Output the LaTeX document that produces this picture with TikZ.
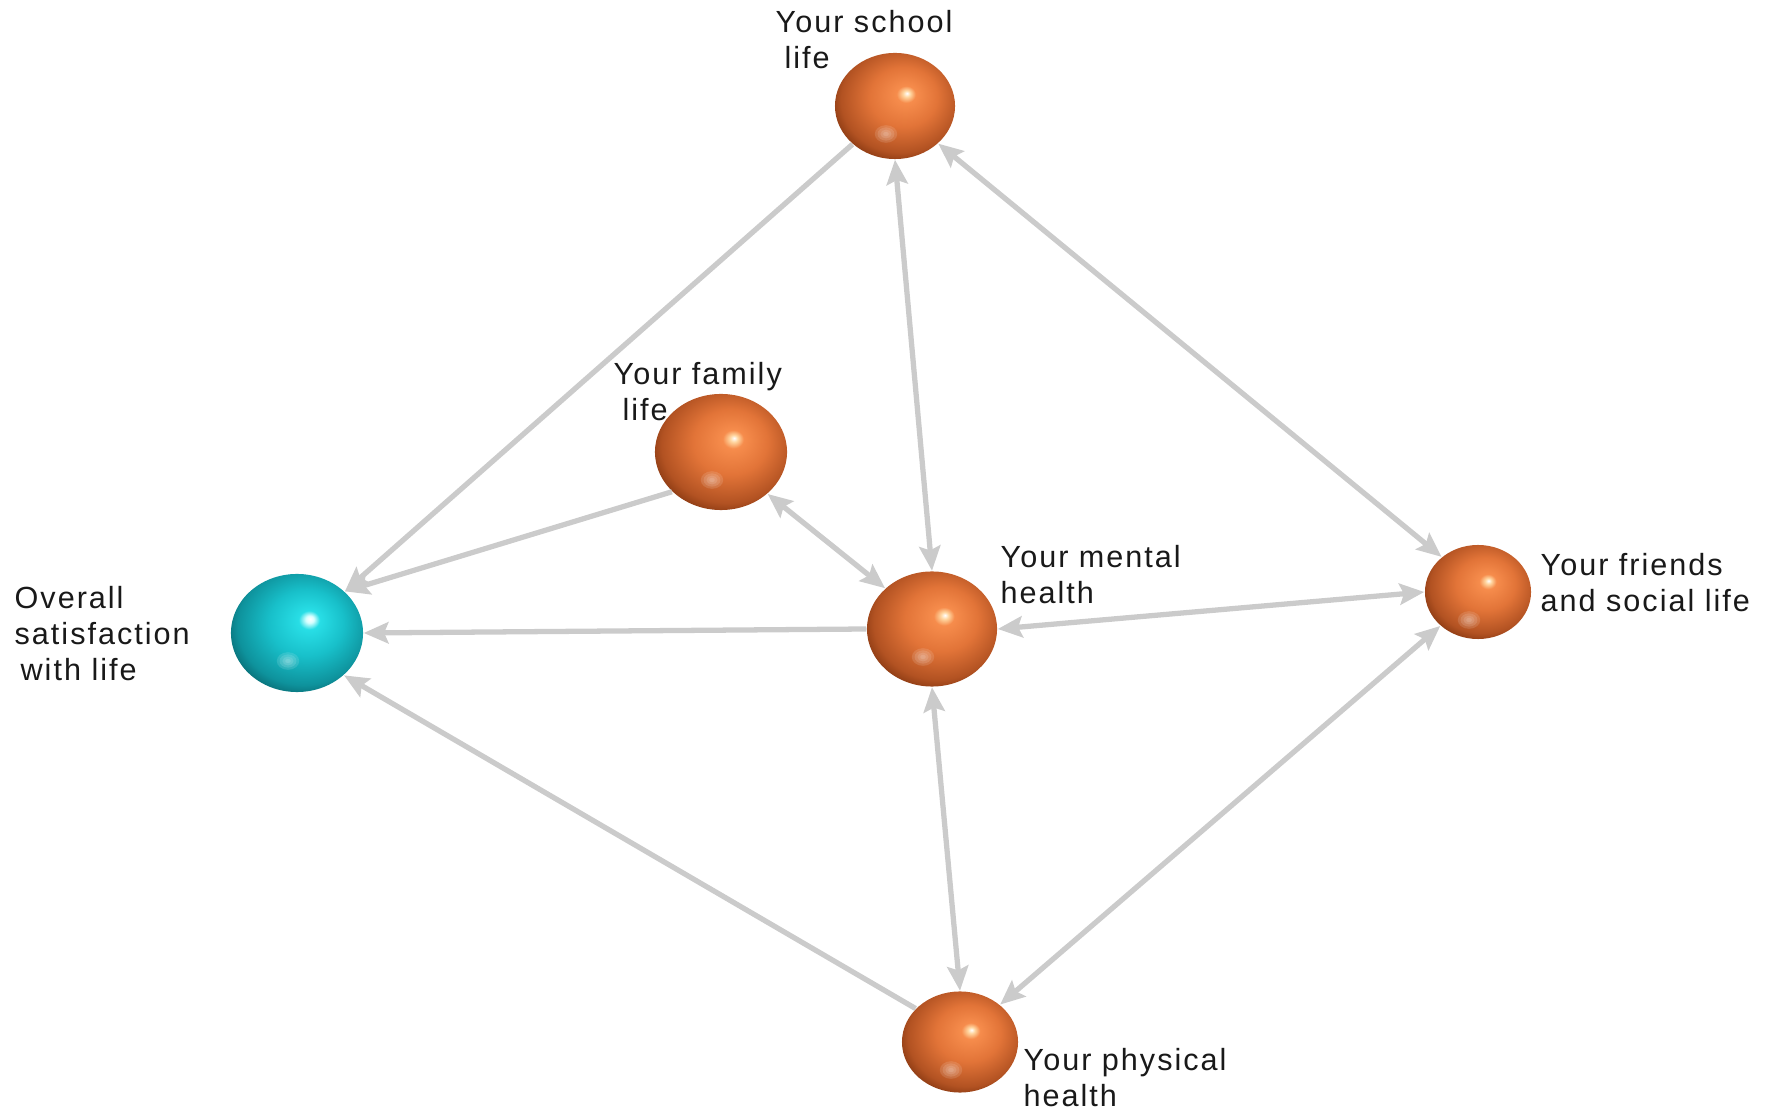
\documentclass[tikz,border=0pt]{standalone}
\usepackage{fontspec}
\newfontfamily\lblfont[LetterSpace=6.5]{Liberation Sans}
\usepackage{tikz}
\usetikzlibrary{shapes.geometric,arrows.meta}
\definecolor{lnkgray}{RGB}{203,203,203}
\definecolor{orgHi}{RGB}{255,214,160}
\definecolor{orgLight}{RGB}{246,140,76}
\definecolor{orgMid}{RGB}{226,116,56}
\definecolor{orgDark}{RGB}{178,82,34}
\definecolor{orgRim}{RGB}{132,54,16}
\definecolor{tealHi}{RGB}{215,255,255}
\definecolor{tealLight}{RGB}{40,222,230}
\definecolor{tealMid}{RGB}{24,192,202}
\definecolor{tealDark}{RGB}{14,146,156}
\definecolor{tealRim}{RGB}{8,104,112}
\pgfdeclareradialshading{orangeball}{\pgfpoint{5bp}{6bp}}{color(0bp)=(white); color(1.5bp)=(orgHi); color(4bp)=(orgLight); color(14bp)=(orgMid); color(25bp)=(orgDark); color(30bp)=(orgRim); color(50bp)=(orgRim)}
\pgfdeclareradialshading{tealball}{\pgfpoint{5bp}{6bp}}{color(0bp)=(white); color(1.5bp)=(tealHi); color(4bp)=(tealLight); color(14bp)=(tealMid); color(25bp)=(tealDark); color(30bp)=(tealRim); color(50bp)=(tealRim)}
\begin{document}
\begin{tikzpicture}[x=0.01cm,y=-0.01cm,>={Stealth[length=7pt,width=6pt,inset=1.2pt]},
    ball/.style={ellipse,inner sep=0pt,shade,shading=orangeball,
      path picture={\foreach \r in {1,...,4}
        \fill[white,opacity=0.12] ([xshift=-0.09cm,yshift=-0.28cm]path picture bounding box.center) ellipse ({\r*0.028cm} and {\r*0.022cm});}},
    lbl/.style={anchor=north west,inner sep=0pt,align=left,text=black!90,
      font=\lblfont\fontsize{8.7}{10.25}\selectfont},
    lnk/.style={draw=lnkgray,line width=1.5pt}]
  \useasboundingbox (0,0) rectangle (1769,1113);
  \node[ball,minimum width=1.20cm,minimum height=1.06cm] (school) at (895,106) {};
  \node[ball,minimum width=1.32cm,minimum height=1.16cm] (family) at (721,452) {};
  \node[ball,shading=tealball,minimum width=1.32cm,minimum height=1.18cm] (overall) at (297,633) {};
  \node[ball,minimum width=1.30cm,minimum height=1.15cm] (mental) at (932,629) {};
  \node[ball,minimum width=1.06cm,minimum height=0.94cm] (friends) at (1478,592) {};
  \node[ball,minimum width=1.16cm,minimum height=1.01cm] (physical) at (960,1042) {};
  \node[lbl] (schoollbl) at (775,10) {Your school\\\hspace*{2.5pt}life};
  \node[lbl] (familylbl) at (613,362) {Your family\\\hspace*{2.5pt}life};
  \node[lbl] (overalllbl) at (14,586) {Overall\\satisfaction\\\hspace*{1.7pt}with life};
  \node[lbl] (mentallbl) at (1000,545) {Your mental\\health};
  \node[lbl] (friendslbl) at (1540,553) {Your friends\\and social life};
  \node[lbl] (physicallbl) at (1023,1048) {Your physical\\health};
  \draw[lnk,->] (school.222) -- (overall.41);
  \draw[lnk,->] (family.219) -- (overall.41);
  \draw[lnk,->] (mental.west) -- (overall.east);
  \draw[lnk,->] (physical.143) -- (overall.-42);
  \draw[lnk,<->] (school.south) -- (mental.north);
  \draw[lnk,<->] (school.-41) -- (friends.136);
  \draw[lnk,<->] (family.-42) -- (mental.139);
  \draw[lnk,<->] (mental.east) -- (friends.west);
  \draw[lnk,<->] (mental.south) -- (physical.north);
  \draw[lnk,<->] (physical.43) -- (friends.222);
\end{tikzpicture}
\end{document}
